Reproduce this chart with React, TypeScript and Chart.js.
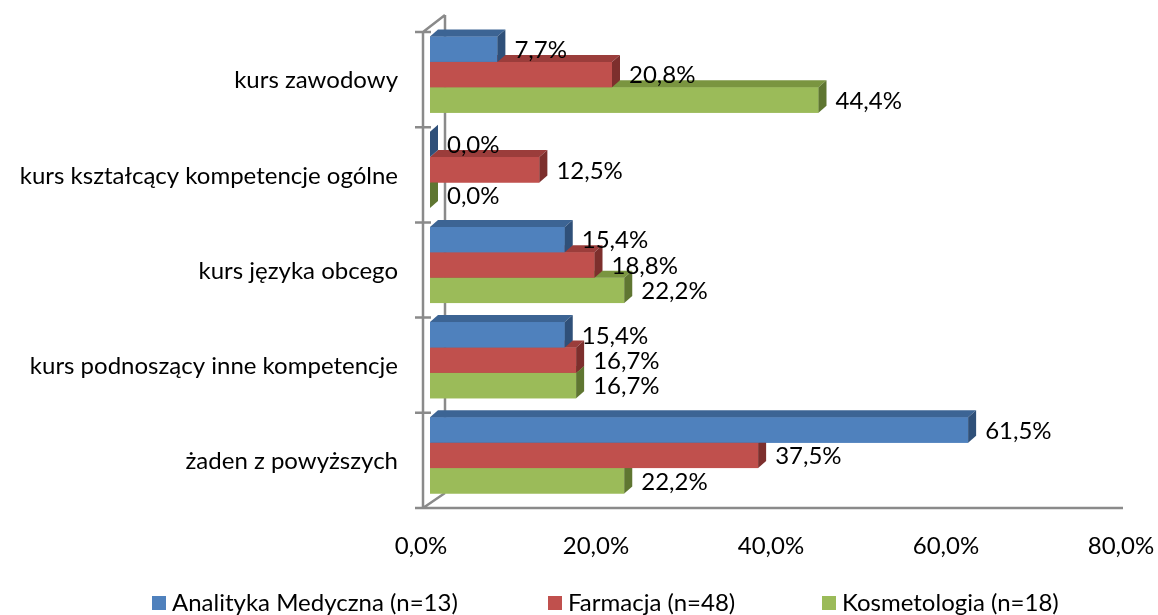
import React, { useEffect, useRef } from "react";
import { Chart, registerables } from "chart.js";

Chart.register(...registerables);

const categories = [
  "kurs zawodowy",
  "kurs kształcący kompetencje ogólne",
  "kurs języka obcego",
  "kurs podnoszący inne kompetencje",
  "żaden z powyższych",
];
const seriesNames = ["Analityka Medyczna (n=13)", "Farmacja (n=48)", "Kosmetologia (n=18)"];
const analityka = [7.7, 0.0, 15.4, 15.4, 61.5];
const farmacja = [20.8, 12.5, 18.8, 16.7, 37.5];
const kosmetologia = [44.4, 0.0, 22.2, 16.7, 22.2];
const xTicks = [0, 20, 40, 60, 80];

const frontColors = ["#4F81BD", "#C0504D", "#9BBB59"];
const topColors = ["#3C6494", "#9B3D3B", "#7A9540"];
const sideColors = ["#2F5079", "#7D2F2D", "#5F7631"];

const FONT = "Lato, 'Liberation Sans', sans-serif";
const FS = 24;
const DX = 8;
const DY = 7;

const fmt = (v: number) => v.toFixed(1).replace(".", ",") + "%";

const threeDPlugin = {
  id: "threeD",
  beforeDatasetsDraw(chart: any) {
    const { ctx, chartArea } = chart;
    const xs = chart.scales.x;
    const x0 = xs.getPixelForValue(xTicks[0]);
    const xEnd = xs.getPixelForValue(xTicks[xTicks.length - 1]);
    const T = chartArea.top;
    const B = chartArea.bottom;
    const n = categories.length;
    ctx.save();
    ctx.strokeStyle = "#8A8A8A";
    ctx.lineWidth = 2.5;
    ctx.beginPath();
    ctx.moveTo(x0 + 15, T - 12);
    ctx.lineTo(x0 + 15, B - 10);
    ctx.moveTo(x0 - 7, T + 5);
    ctx.lineTo(x0 - 7, B + 5);
    ctx.moveTo(x0 - 7, T + 5);
    ctx.lineTo(x0 + 15, T - 12);
    ctx.moveTo(x0 - 7, B + 5);
    ctx.lineTo(x0 + 15, B - 10);
    ctx.moveTo(x0 - 15, B + 5);
    ctx.lineTo(xEnd - 7, B + 5);
    for (let k = 0; k <= n; k++) {
      const y = T + 5 + ((B - T) * k) / n;
      ctx.moveTo(x0 - 15, y);
      ctx.lineTo(x0 + 1, y);
    }
    ctx.stroke();
    ctx.restore();
  },
  afterDatasetsDraw(chart: any) {
    const { ctx } = chart;
    const nd = chart.data.datasets.length;
    ctx.save();
    for (let i = 0; i < categories.length; i++) {
      for (let d = nd - 1; d >= 0; d--) {
        const el = chart.getDatasetMeta(d).data[i];
        const p = el.getProps(["x", "y", "base", "height"], true);
        const left = Math.min(p.base, p.x);
        const right = Math.max(p.base, p.x);
        const top = p.y - p.height / 2;
        const bottom = p.y + p.height / 2;
        ctx.fillStyle = frontColors[d];
        ctx.fillRect(left, top, right - left, bottom - top);
        ctx.fillStyle = topColors[d];
        ctx.beginPath();
        ctx.moveTo(left, top);
        ctx.lineTo(left + DX, top - DY);
        ctx.lineTo(right + DX, top - DY);
        ctx.lineTo(right, top);
        ctx.closePath();
        ctx.fill();
        ctx.fillStyle = sideColors[d];
        ctx.beginPath();
        ctx.moveTo(right, top);
        ctx.lineTo(right + DX, top - DY);
        ctx.lineTo(right + DX, bottom - DY);
        ctx.lineTo(right, bottom);
        ctx.closePath();
        ctx.fill();
      }
    }
    ctx.fillStyle = "#000";
    ctx.font = `${FS}px ${FONT}`;
    ctx.textAlign = "left";
    ctx.textBaseline = "middle";
    for (let d = 0; d < nd; d++) {
      const meta = chart.getDatasetMeta(d);
      const data = chart.data.datasets[d].data as number[];
      meta.data.forEach((el: any, i: number) => {
        const p = el.getProps(["x", "y"], true);
        ctx.fillText(fmt(data[i]), p.x + DX + 9, p.y + 1);
      });
    }
    ctx.restore();
  },
  afterDraw(chart: any) {
    const { ctx } = chart;
    const starts = [152, 548, 822];
    ctx.save();
    ctx.font = `${FS}px ${FONT}`;
    ctx.textAlign = "left";
    ctx.textBaseline = "middle";
    seriesNames.forEach((name, d) => {
      ctx.fillStyle = frontColors[d];
      ctx.fillRect(starts[d], 596, 14, 14);
      ctx.fillStyle = "#000";
      ctx.fillText(name, starts[d] + 20, 603);
    });
    ctx.restore();
  },
};

export default function App() {
  const canvasRef = useRef<HTMLCanvasElement | null>(null);

  useEffect(() => {
    document.body.style.margin = "0";
    const canvas = canvasRef.current;
    if (!canvas) return;
    const series = [analityka, farmacja, kosmetologia];
    const chart = new Chart(canvas, {
      type: "bar",
      data: {
        labels: categories,
        datasets: series.map((s, d) => ({
          label: seriesNames[d],
          data: s,
          backgroundColor: frontColors[d],
          borderWidth: 0,
          categoryPercentage: 0.8,
          barPercentage: 1.0,
        })),
      },
      options: {
        indexAxis: "y",
        responsive: true,
        maintainAspectRatio: false,
        animation: false,
        devicePixelRatio: 1,
        layout: { padding: { top: 27, right: 28, left: 0, bottom: 0 } },
        plugins: {
          legend: { display: false },
          tooltip: { enabled: false },
        },
        scales: {
          x: {
            min: xTicks[0],
            max: xTicks[xTicks.length - 1],
            afterBuildTicks: (scale: any) => {
              scale.ticks = xTicks.map((v) => ({ value: v }));
            },
            afterFit: (scale: any) => {
              scale.height = 112;
              scale.paddingLeft = 0;
              scale.paddingRight = 0;
            },
            grid: { display: false, drawTicks: false },
            border: { display: false },
            ticks: {
              padding: 29,
              labelOffset: -9,
              color: "#000",
              font: { family: FONT, size: FS },
              callback: (v: any) => fmt(Number(v)),
              maxRotation: 0,
            },
          },
          y: {
            afterFit: (scale: any) => {
              scale.width = 430;
              scale.paddingTop = 0;
              scale.paddingBottom = 0;
            },
            grid: { display: false, drawTicks: false },
            border: { display: false },
            ticks: {
              padding: 32,
              labelOffset: 6,
              color: "#000",
              font: { family: FONT, size: FS },
              autoSkip: false,
            },
          },
        },
      },
      plugins: [threeDPlugin],
    });
    return () => chart.destroy();
  }, []);

  return (
    <div style={{ width: 1158, height: 615, position: "relative" }}>
      <canvas ref={canvasRef} />
    </div>
  );
}
